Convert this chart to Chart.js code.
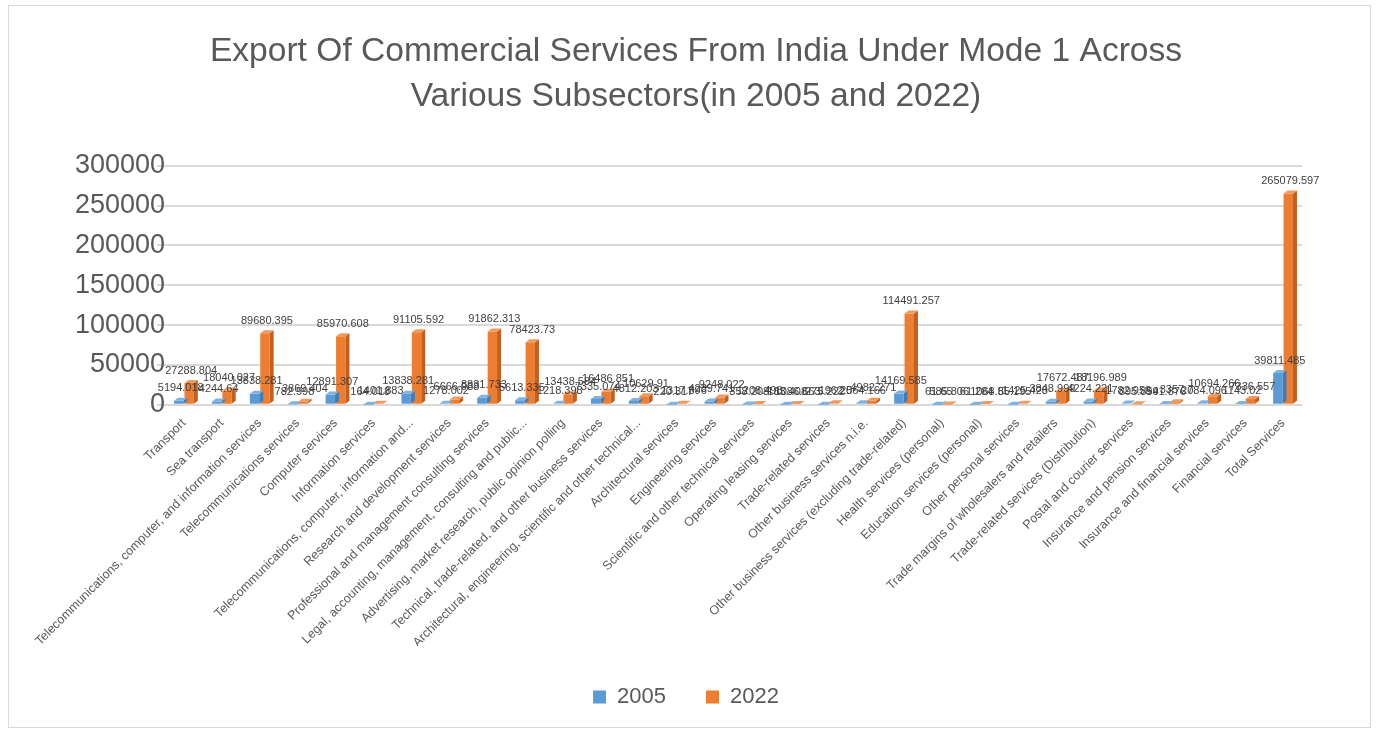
<!DOCTYPE html>
<html>
<head>
<meta charset="utf-8">
<script src="https://cdn.jsdelivr.net/npm/chart.js@4/dist/chart.umd.min.js"></script>
<style>
html,body{margin:0;padding:0;background:#fff;}
canvas{display:block;}
</style>
</head>
<body>
<canvas id="c" width="1379" height="732"></canvas>
<script>
const categories = [
  "Transport",
  "Sea transport",
  "Telecommunications, computer, and information services",
  "Telecommunications services",
  "Computer services",
  "Information services",
  "Telecommunications, computer, information and...",
  "Research and development services",
  "Professional and management consulting services",
  "Legal, accounting, management, consulting and public...",
  "Advertising, market research, public opinion polling",
  "Technical, trade-related, and other business services",
  "Architectural, engineering, scientific and other technical...",
  "Architectural services",
  "Engineering services",
  "Scientific and other technical services",
  "Operating leasing services",
  "Trade-related services",
  "Other business services n.i.e.",
  "Other business services (excluding trade-related)",
  "Health services (personal)",
  "Education services (personal)",
  "Other personal services",
  "Trade margins of wholesalers and retailers",
  "Trade-related services (Distribution)",
  "Postal and courier services",
  "Insurance and pension services",
  "Insurance and financial services",
  "Financial services",
  "Total Services"
];
const values2005 = [5194.018, 4244.64, 13838.281, 782.998, 12891.307, 164.018, 13838.281, 1278.002, 8831.733, 5613.335, 1218.398, 7335.074, 4812.203, 220.317, 4239.741, 358.208, 183.408, 275.222, 2064.166, 14169.585, 61.65, 61.284, 85.195, 3848.999, 4224.221, 1782.958, 941.876, 2084.096, 1143.02, 39811.485];
const values2022 = [27288.804, 18040.027, 89680.395, 3869.404, 85970.608, 1401.883, 91105.592, 6666.988, 91862.313, 78423.73, 13438.584, 16486.851, 10629.91, 1317.896, 9248.022, 1208.498, 1086.663, 1962.5, 4982.271, 114491.257, 585.806, 1068.5, 1425.428, 17672.487, 18196.989, 895.859, 3357.7, 10694.266, 7336.557, 265079.597];
const seriesNames = ["2005", "2022"];
const yMin = 0, yMax = 300000, yStep = 50000;

const colors = [
  {main: "#5B9BD5", side: "#3F7DB8", top: "#7FB2E0"},
  {main: "#ED7D31", side: "#C2611F", top: "#F29A5C"}
];
const FONT = "'Liberation Sans', Arial, sans-serif";

const depthPlugin = {
  id: "depth3d",
  afterLayout(chart) {
    const t = chart.titleBlock;
    if (t) { t.left = 13; t.right = chart.width; t.width = t.right - t.left; }
    const l = chart.legend;
    if (l) { l.left = 0; l.right = chart.width - 7; l.width = l.right - l.left; }
  },
  beforeDraw(chart) {
    const ctx = chart.ctx;
    ctx.save();
    ctx.fillStyle = "#ffffff";
    ctx.fillRect(0, 0, chart.width, chart.height);
    ctx.strokeStyle = "#d9d9d9";
    ctx.lineWidth = 1;
    ctx.strokeRect(8.5, 5.5, chart.width - 17, chart.height - 10);
    ctx.restore();
  },
  afterDatasetsDraw(chart) {
    const ctx = chart.ctx;
    const d = 4, dy = 3;
    ctx.save();
    chart.data.datasets.forEach((ds, i) => {
      const meta = chart.getDatasetMeta(i);
      meta.data.forEach((bar) => {
        const left = bar.x - bar.width / 2, right = bar.x + bar.width / 2;
        const top = bar.y, base = bar.base;
        ctx.fillStyle = colors[i].side;
        ctx.beginPath();
        ctx.moveTo(right, top);
        ctx.lineTo(right + d, top - dy);
        ctx.lineTo(right + d, base - dy);
        ctx.lineTo(right, base);
        ctx.closePath();
        ctx.fill();
        ctx.fillStyle = colors[i].top;
        ctx.beginPath();
        ctx.moveTo(left, top);
        ctx.lineTo(left + d, top - dy);
        ctx.lineTo(right + d, top - dy);
        ctx.lineTo(right, top);
        ctx.closePath();
        ctx.fill();
      });
    });
    ctx.fillStyle = "#404040";
    ctx.font = "11px " + FONT;
    ctx.textAlign = "center";
    ctx.textBaseline = "bottom";
    chart.data.datasets.forEach((ds, i) => {
      const meta = chart.getDatasetMeta(i);
      meta.data.forEach((bar, j) => {
        ctx.fillText(String(ds.data[j]), bar.x + 2, bar.y - 7);
      });
    });
    ctx.restore();
  }
};

new Chart(document.getElementById("c"), {
  type: "bar",
  data: {
    labels: categories,
    datasets: [
      {label: seriesNames[0], data: values2005, backgroundColor: colors[0].main, categoryPercentage: 0.55, barPercentage: 0.9},
      {label: seriesNames[1], data: values2022, backgroundColor: colors[1].main, categoryPercentage: 0.55, barPercentage: 0.9}
    ]
  },
  options: {
    responsive: false,
    devicePixelRatio: 1,
    animation: false,
    layout: {padding: {left: 10, right: 77, top: 0, bottom: 14}},
    plugins: {
      title: {
        display: true,
        text: ["Export Of Commercial Services From India Under Mode 1 Across", "Various Subsectors(in 2005 and 2022)"],
        color: "#595959",
        font: {family: FONT, size: 33.6, weight: "normal", lineHeight: 1.35},
        padding: {top: 29, bottom: 46}
      },
      legend: {
        position: "bottom",
        labels: {
          color: "#595959",
          font: {family: FONT, size: 22},
          boxWidth: 13, boxHeight: 13, padding: 40
        }
      },
      tooltip: {enabled: false}
    },
    scales: {
      x: {
        grid: {display: false},
        border: {display: false},
        afterFit(scale) { scale.height -= 7; },
        ticks: {
          autoSkip: false, minRotation: 45, maxRotation: 45,
          color: "#595959",
          font: {family: FONT, size: 12.5}
        }
      },
      y: {
        min: yMin, max: yMax,
        border: {display: false},
        grid: {color: "#d9d9d9", lineWidth: 2},
        afterFit(scale) { scale.width = 155; },
        ticks: {
          stepSize: yStep,
          color: "#595959",
          padding: -8,
          callback: (v) => String(v),
          font: {family: FONT, size: 27}
        }
      }
    }
  },
  plugins: [depthPlugin]
});
</script>
</body>
</html>
